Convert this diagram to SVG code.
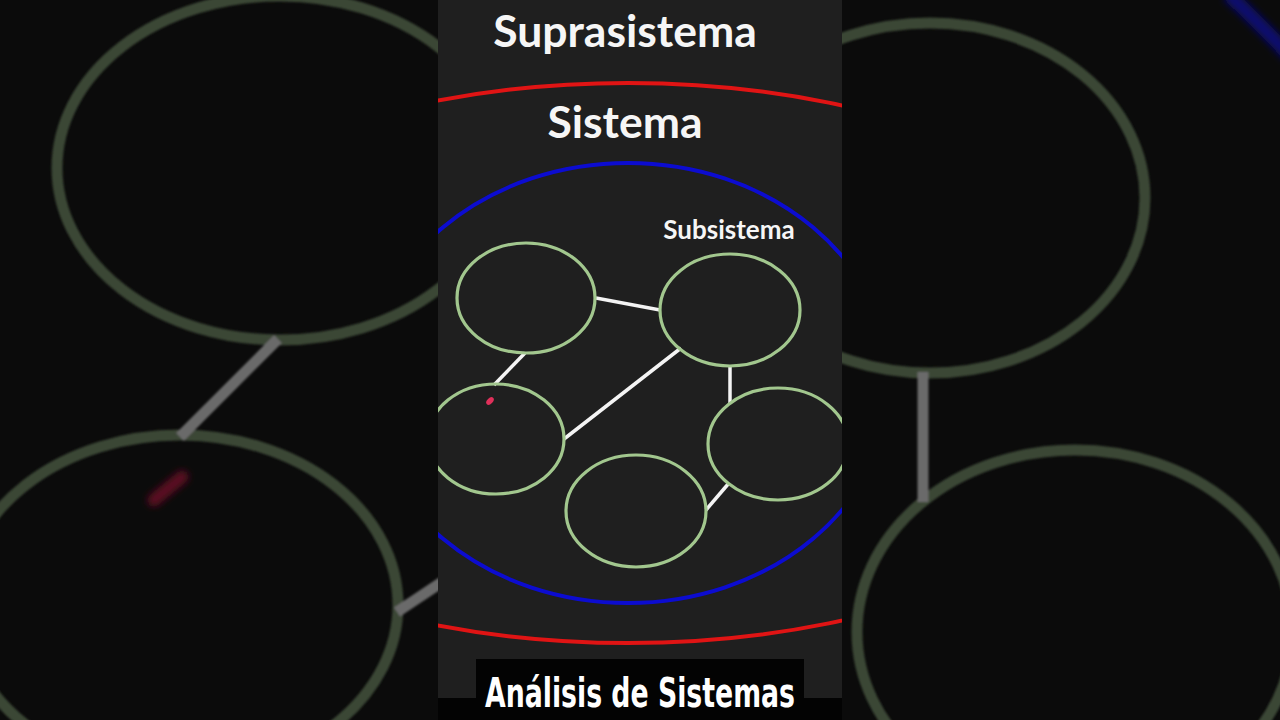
<svg xmlns="http://www.w3.org/2000/svg" width="1280" height="720" viewBox="0 0 1280 720">
<defs>
<clipPath id="cl"><rect x="438" y="0" width="404" height="720"/></clipPath>
<clipPath id="cll"><rect x="0" y="0" width="438" height="720"/></clipPath>
<clipPath id="clr"><rect x="842" y="0" width="438" height="720"/></clipPath>
<filter id="blur" x="-50%" y="-50%" width="200%" height="200%"><feGaussianBlur stdDeviation="3.5"/></filter>
<filter id="soft" x="-10%" y="-10%" width="120%" height="120%"><feGaussianBlur stdDeviation="1"/></filter>
<style>
.bg{fill:#0b0b0b}
.dimE{fill:none;stroke:#3b4636;stroke-width:11}
.dimC{stroke:#6a6a6a;stroke-width:11;stroke-linecap:butt}
.sub{fill:none;stroke:#a2c78e;stroke-width:3.2}
.con{stroke:#f4f4f4;stroke-width:3.5;stroke-linecap:butt}
.lbl{font-family:Lato,"Open Sans",sans-serif;font-weight:bold;fill:#f6f6f6;text-anchor:middle}
</style>
</defs>
<rect class="bg" x="0" y="0" width="1280" height="720"/>
<g id="left-panel" clip-path="url(#cll)">
<g filter="url(#soft)">
<ellipse class="dimE" cx="280" cy="168" rx="223" ry="172"/>
<ellipse class="dimE" cx="180" cy="605" rx="218" ry="170"/>
<line class="dimC" x1="278" y1="339" x2="180" y2="437"/>
<line class="dimC" x1="397" y1="612" x2="442" y2="582"/>
</g>
<line x1="182" y1="477" x2="154" y2="500" stroke="#5c0c22" stroke-width="13" stroke-linecap="round" filter="url(#blur)"/>
</g>
<g id="right-panel" clip-path="url(#clr)">
<g filter="url(#soft)">
<ellipse class="dimE" cx="930" cy="198" rx="215" ry="175"/>
<ellipse class="dimE" cx="1075" cy="632" rx="218" ry="182"/>
<line class="dimC" x1="923" y1="372" x2="923" y2="502"/>
</g>
<path d="M1228,-6 Q1256,20 1290,56" fill="none" stroke="#08086e" stroke-width="14" filter="url(#blur)"/>
</g>
<rect x="438" y="0" width="404" height="720" fill="#1f1f1f"/>
<g clip-path="url(#cl)">
<g id="suprasistema">
<ellipse cx="628" cy="363" rx="545" ry="280" fill="none" stroke="#e01414" stroke-width="4"/>
<text class="lbl" x="625" y="47" font-size="44.5">Suprasistema</text>
</g>
<g id="sistema">
<ellipse cx="628" cy="383" rx="262" ry="220" fill="none" stroke="#0c0cd0" stroke-width="4"/>
<text class="lbl" x="625" y="138" font-size="44.5">Sistema</text>
</g>
<text id="subsistema-label" class="lbl" x="729" y="239" font-size="26">Subsistema</text>
<g id="connectors">
<line class="con" x1="596" y1="298" x2="660" y2="310"/>
<line class="con" x1="525" y1="353" x2="494" y2="385"/>
<line class="con" x1="681" y1="348" x2="564" y2="439"/>
<line class="con" x1="730" y1="365" x2="730" y2="403"/>
<line class="con" x1="706" y1="510" x2="729" y2="483"/>
</g>
<g id="sub1"><ellipse class="sub" cx="526" cy="298" rx="69" ry="55"/></g>
<g id="sub2"><ellipse class="sub" cx="730" cy="310" rx="70" ry="56"/></g>
<g id="sub3"><ellipse class="sub" cx="496" cy="439" rx="68" ry="55"/></g>
<g id="sub4"><ellipse class="sub" cx="778" cy="444" rx="70" ry="56"/></g>
<g id="sub5"><ellipse class="sub" cx="636" cy="511" rx="70" ry="56"/></g>
<ellipse cx="490" cy="401" rx="4.5" ry="2.8" fill="#e0305a" transform="rotate(-45 490 401)"/>
</g>
<rect x="438" y="698" width="404" height="22" fill="#030303"/>
<g id="caption">
<rect x="476" y="659" width="328" height="61" fill="#030303"/>
<text x="485" y="707" font-family="'DejaVu Sans Condensed','DejaVu Sans',sans-serif" font-weight="bold" font-size="40" fill="#ffffff" textLength="310" lengthAdjust="spacingAndGlyphs">Análisis de Sistemas</text>
</g>
</svg>
